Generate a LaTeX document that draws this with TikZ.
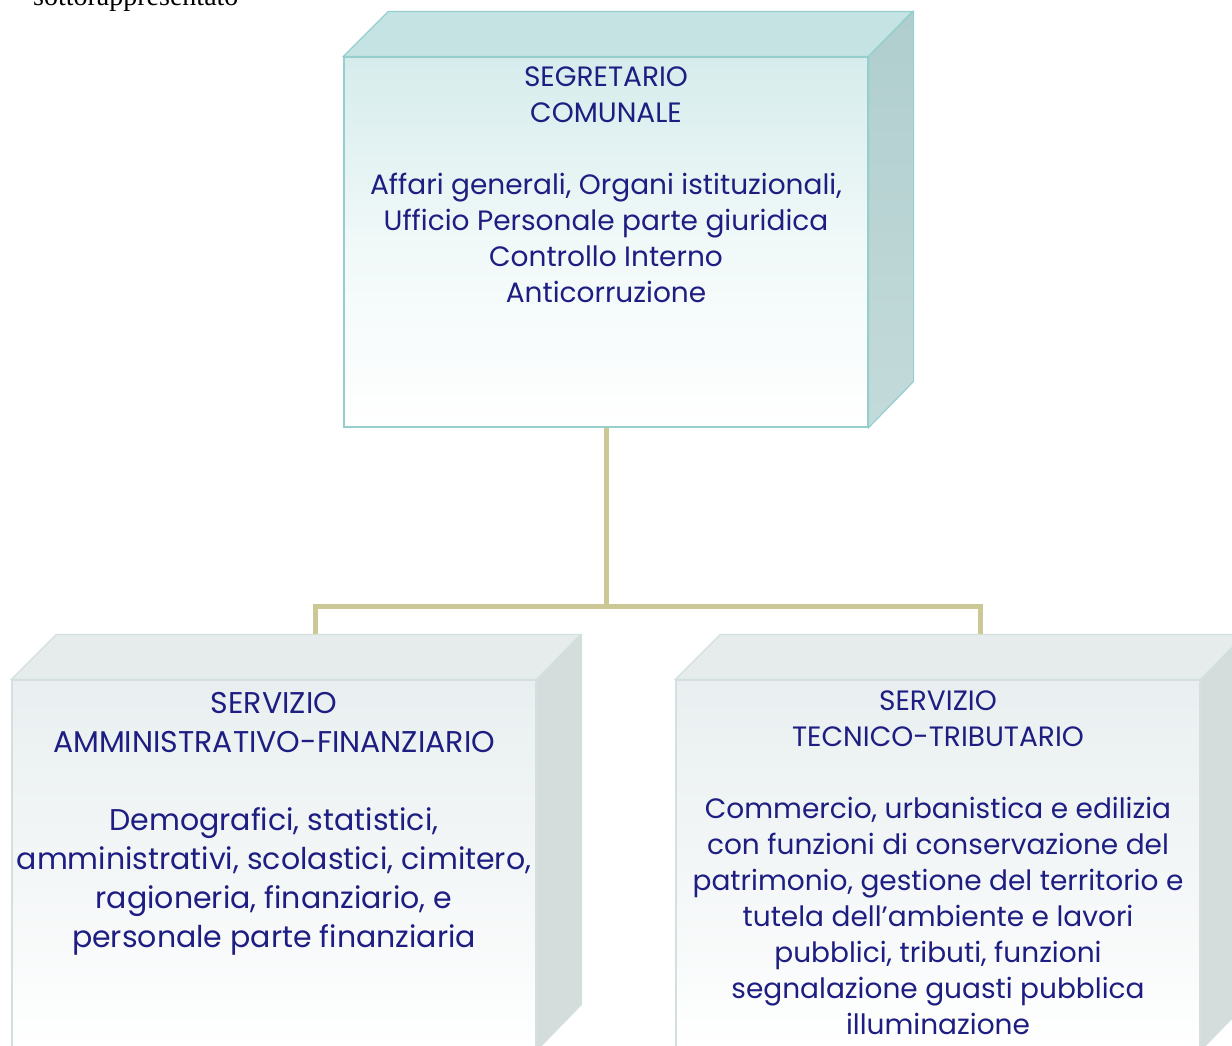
\documentclass[tikz,border=0pt]{standalone}
\usepackage{fontspec}
\setmainfont{Poppins}
\newfontfamily\timesfont{Liberation Serif}
\usetikzlibrary{calc}
\definecolor{inkblue}{RGB}{30,30,130}
\definecolor{segline}{RGB}{150,206,206}
\definecolor{segfront}{RGB}{214,236,236}
\definecolor{segtop}{RGB}{197,227,227}
\definecolor{segside}{RGB}{176,206,206}
\definecolor{servline}{RGB}{212,224,224}
\definecolor{servfront}{RGB}{233,239,240}
\definecolor{servtop}{RGB}{230,236,236}
\definecolor{servside}{RGB}{213,220,220}
\definecolor{linkcol}{RGB}{203,200,150}
\tikzset{
  face/.style={rectangle, minimum width=524pt, minimum height=370pt, inner sep=0pt, line width=1.2pt},
  segface/.style={face, draw=segline, top color=segfront, bottom color=white, middle color=segfront!35},
  servface/.style={face, draw=servline, top color=servfront, bottom color=white, middle color=servfront!55},
  boxtext/.style={text=inkblue, align=center, inner sep=0pt, anchor=north},
  link/.style={draw=linkcol, line width=5pt}
}
\begin{document}
\begin{tikzpicture}[x=1pt,y=-1pt]
  \useasboundingbox (0,0) rectangle (1232,1045);
  \node[anchor=base west, inner sep=0pt, font=\timesfont\fontsize{28}{32}\selectfont] (intro) at (33,5) {sottorappresentato};

  % segretario
  \node[segface] (seg) at (606,242) {};
  \filldraw[draw=segline, fill=segtop, line width=1.2pt]
    (seg.north west) -- ++(45,-45) -- ++(524,0) -- (seg.north east) -- cycle;
  \filldraw[draw=segline, top color=segside, bottom color=segside!75!white, line width=1.2pt]
    (seg.north east) -- ++(45,-45) -- ++(0,370) -- (seg.south east) -- cycle;
  \node[boxtext, font=\fontsize{28}{36}\selectfont] (segtxt) at (606,67)
    {SEGRETARIO\\COMUNALE\\[36pt]Affari generali, Organi istituzionali,\\Ufficio Personale parte giuridica\\Controllo Interno\\Anticorruzione};

  % servizio amministrativo-finanziario
  \node[servface] (amm) at (274,865) {};
  \filldraw[draw=servline, fill=servtop, line width=1.2pt]
    (amm.north west) -- ++(45,-45) -- ++(524,0) -- (amm.north east) -- cycle;
  \filldraw[draw=servline, fill=servside, line width=1.2pt]
    (amm.north east) -- ++(45,-45) -- ++(0,370) -- (amm.south east) -- cycle;
  \node[boxtext, font=\fontsize{30}{39}\selectfont] (ammtxt) at (274,692)
    {SERVIZIO\\AMMINISTRATIVO-FINANZIARIO\\[39pt]Demografici, statistici,\\amministrativi, scolastici, cimitero,\\ragioneria, finanziario, e\\personale parte finanziaria};

  % servizio tecnico-tributario
  \node[servface] (tec) at (938,865) {};
  \filldraw[draw=servline, fill=servtop, line width=1.2pt]
    (tec.north west) -- ++(45,-45) -- ++(524,0) -- (tec.north east) -- cycle;
  \filldraw[draw=servline, fill=servside, line width=1.2pt]
    (tec.north east) -- ++(45,-45) -- ++(0,370) -- (tec.south east) -- cycle;
  \node[boxtext, font=\fontsize{28}{36}\selectfont] (tectxt) at (938,691)
    {SERVIZIO\\TECNICO-TRIBUTARIO\\[36pt]Commercio, urbanistica e edilizia\\con funzioni di conservazione del\\patrimonio, gestione del territorio e\\tutela dell’ambiente e lavori\\pubblici, tributi, funzioni\\segnalazione guasti pubblica\\illuminazione};

  % links
  \coordinate (ammjoin) at ($(amm.north)+(41,-45)$);
  \coordinate (tecjoin) at ($(tec.north)+(42,-45)$);
  \draw[link] (seg.south) -- ++(0,179) coordinate (fork);
  \draw[link] (ammjoin) |- (fork) -| (tecjoin);
\end{tikzpicture}
\end{document}
